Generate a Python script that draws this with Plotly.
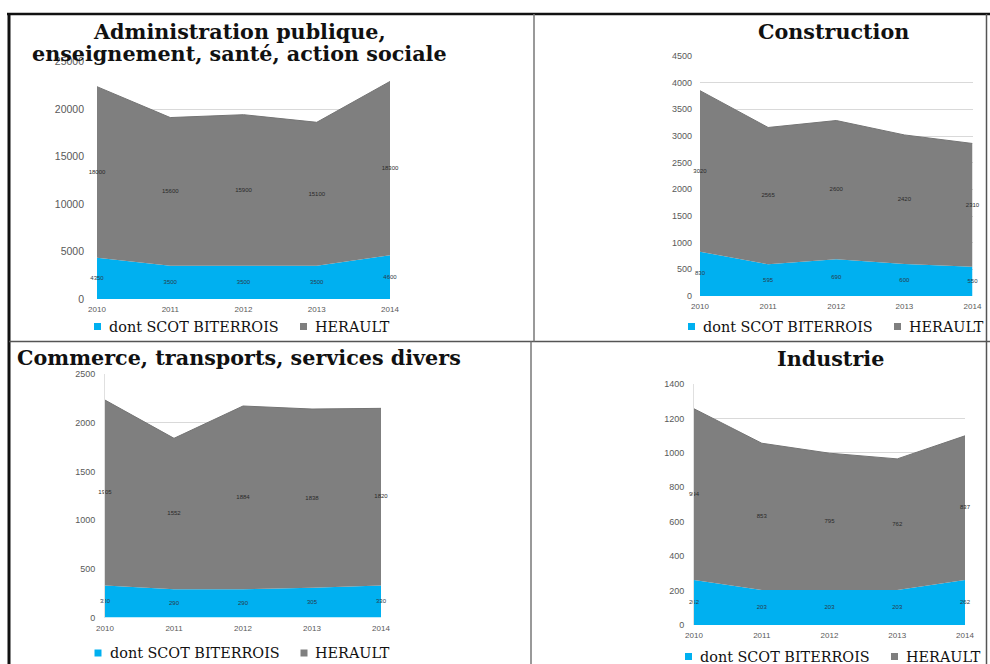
import plotly.graph_objects as go

W, H = 990, 664
years = [2010, 2011, 2012, 2013, 2014]
year_labels = ["2010", "2011", "2012", "2013", "2014"]

# Panel 1 : Administration publique...
admin_scot = [4350, 3500, 3500, 3500, 4600]
admin_herault = [18000, 15600, 15900, 15100, 18300]
# Panel 2 : Construction
constr_scot = [830, 595, 690, 600, 550]
constr_herault = [3020, 2565, 2600, 2420, 2310]
# Panel 3 : Commerce, transports, services divers
comm_scot = [330, 290, 290, 305, 330]
comm_herault = [1905, 1552, 1884, 1838, 1820]
# Panel 4 : Industrie
indus_scot = [262, 203, 203, 203, 262]
indus_herault = [994, 853, 795, 762, 837]

title_lines = [["Administration publique,", "enseignement, santé, action sociale"],
               ["Construction"],
               ["Commerce, transports, services divers"],
               ["Industrie"]]
series_names = ["dont SCOT BITERROIS", "HERAULT"]
BLUE = "#00B0F0"
GRAY = "#7F7F7F"

def fx(x):
    return x / W

def fy(y):
    return 1 - y / H

panels = [
    dict(scot=admin_scot, her=admin_herault, x0=97, x1=390, yb=299, yt=61.5, ymax=25000, dt=5000, yfs=10.5,
         ystand=12, title_x=239, title_y=[32, 53.5], icon_x=97.5, legy=326.5),
    dict(scot=constr_scot, her=constr_herault, x0=700, x1=972.5, yb=296, yt=56, ymax=4500, dt=500, yfs=9,
         ystand=7, title_x=833, title_y=[31.5], icon_x=691.5, legy=326.5),
    dict(scot=comm_scot, her=comm_herault, x0=105, x1=381, yb=617.5, yt=374.3, ymax=2500, dt=500, yfs=9,
         ystand=7, title_x=15, title_y=[358], icon_x=98, legy=653),
    dict(scot=indus_scot, her=indus_herault, x0=694, x1=965, yb=625, yt=384, ymax=1400, dt=200, yfs=9,
         ystand=7, title_x=830, title_y=[359], icon_x=688.5, legy=656.5),
]

fig = go.Figure()
layout = {}
annotations = []
shapes = []
for i, p in enumerate(panels):
    n = "" if i == 0 else str(i + 1)
    xa, ya = "x" + n, "y" + n
    sg = "s" + str(i)
    fig.add_trace(go.Scatter(x=years, y=p["scot"], stackgroup=sg, mode="lines", name=series_names[0],
                             line=dict(width=0, color=BLUE), fillcolor=BLUE,
                             xaxis=xa, yaxis=ya, showlegend=False, hoverinfo="skip"))
    fig.add_trace(go.Scatter(x=years, y=p["her"], stackgroup=sg, mode="lines", name=series_names[1],
                             line=dict(width=1, color="#747474"), fillcolor=GRAY,
                             xaxis=xa, yaxis=ya, showlegend=False, hoverinfo="skip"))
    mid_s = [s / 2 for s in p["scot"]]
    mid_h = [s + h / 2 for s, h in zip(p["scot"], p["her"])]
    fig.add_trace(go.Scatter(x=years, y=mid_s, mode="text", text=[str(v) for v in p["scot"]],
                             textfont=dict(size=6, color="#2a3a4a", family="Liberation Sans"),
                             cliponaxis=False,
                             xaxis=xa, yaxis=ya, showlegend=False, hoverinfo="skip"))
    fig.add_trace(go.Scatter(x=years, y=mid_h, mode="text", text=[str(v) for v in p["her"]],
                             textfont=dict(size=6, color="#2a2a2a", family="Liberation Sans"),
                             cliponaxis=False,
                             xaxis=xa, yaxis=ya, showlegend=False, hoverinfo="skip"))
    layout["xaxis" + n] = dict(domain=[fx(p["x0"]), fx(p["x1"])], range=[2010, 2014],
                               tickvals=years, ticktext=year_labels, showgrid=False, zeroline=False,
                               showline=False, ticks="", anchor=ya, fixedrange=True, ticklabelstandoff=4,
                               tickfont=dict(size=8, color="#595959", family="Liberation Sans"))
    layout["yaxis" + n] = dict(domain=[fy(p["yb"]), fy(p["yt"])], range=[0, p["ymax"]],
                               dtick=p["dt"], tick0=0, tickformat="d", showgrid=True, gridcolor="#d9d9d9",
                               gridwidth=1, zeroline=False, showline=(i >= 2), linecolor="#e0e0e0", ticks="",
                               anchor=xa, fixedrange=True, ticklabelstandoff=p["ystand"],
                               tickfont=dict(size=p["yfs"], color="#595959", family="Liberation Sans"))
    for line, ty in zip(title_lines[i], p["title_y"]):
        annotations.append(dict(text="<b>" + line + "</b>", xref="paper", yref="paper",
                                x=fx(p["title_x"]), y=fy(ty),
                                xanchor="left" if i == 2 else "center", yanchor="middle",
                                showarrow=False, align="center",
                                font=dict(family="DejaVu Serif", size=20.7, color="#111111")))
    # legend: colour swatch + series name
    for k, (name, col) in enumerate(zip(series_names, [BLUE, GRAY])):
        cx = p["icon_x"] + 206 * k
        tx = p["icon_x"] + (9.5 if k == 0 else 215)
        shapes.append(dict(type="rect", xref="paper", yref="paper",
                           x0=fx(cx - 3.5), x1=fx(cx + 3.5), y0=fy(p["legy"] + 3.5), y1=fy(p["legy"] - 3.5),
                           fillcolor=col, line=dict(width=0)))
        annotations.append(dict(text=name, xref="paper", yref="paper", x=fx(tx), y=fy(p["legy"]),
                                xanchor="left", yanchor="middle", showarrow=False,
                                font=dict(family="DejaVu Serif", size=14.4, color="#111111")))

shapes += [
    dict(type="line", xref="paper", yref="paper", x0=fx(7), x1=fx(990), y0=fy(14), y1=fy(14),
         line=dict(color="#111111", width=2.5)),
    dict(type="line", xref="paper", yref="paper", x0=fx(9), x1=fx(9), y0=fy(13), y1=fy(664),
         line=dict(color="#111111", width=3)),
    dict(type="line", xref="paper", yref="paper", x0=fx(9), x1=fx(990), y0=fy(341.5), y1=fy(341.5),
         line=dict(color="#555555", width=1.5)),
    dict(type="line", xref="paper", yref="paper", x0=fx(534), x1=fx(534), y0=fy(14), y1=fy(341.5),
         line=dict(color="#777777", width=1.5)),
    dict(type="line", xref="paper", yref="paper", x0=fx(531), x1=fx(531), y0=fy(341.5), y1=fy(664),
         line=dict(color="#777777", width=1.5)),
    dict(type="line", xref="paper", yref="paper", x0=fx(986.5), x1=fx(986.5), y0=fy(14), y1=fy(664),
         line=dict(color="#555555", width=1.5)),
]

fig.update_layout(width=W, height=H, margin=dict(l=0, r=0, t=0, b=0, autoexpand=False),
                  paper_bgcolor="white", plot_bgcolor="rgba(0,0,0,0)", showlegend=False,
                  annotations=annotations, shapes=shapes, **layout)

fig.write_html("out.html", config={"displayModeBar": False},
               post_script="document.body.style.margin='0';document.body.style.overflow='hidden';")
